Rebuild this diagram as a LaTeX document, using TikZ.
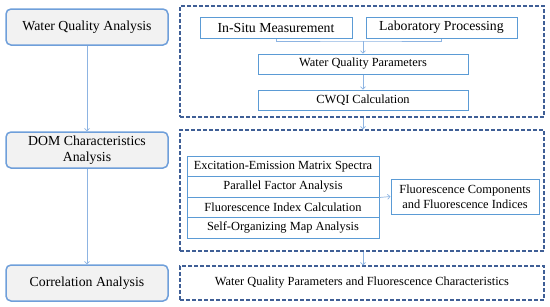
\documentclass[tikz,border=0pt]{standalone}
\usepackage{fontspec}
\setmainfont{Liberation Serif}
\usetikzlibrary{arrows.meta}
\definecolor{leftborder}{HTML}{6F9FDA}
\definecolor{leftfill}{HTML}{F2F2F2}
\definecolor{boxborder}{HTML}{5B9BD5}
\definecolor{dashcol}{HTML}{3F5F96}
\definecolor{arrcol}{HTML}{8DB4E2}
\tikzset{
  leftbox/.style={draw=leftborder, fill=leftfill, line width=1.5pt, rounded corners=5pt,
    minimum width=162pt, minimum height=36pt, inner sep=0pt, align=center,
    font=\fontsize{13.8}{16}\selectfont},
  dashbox/.style={draw=dashcol, line width=1.5pt, dash pattern=on 4pt off 2pt},
  topbox/.style={draw=boxborder, line width=1pt, minimum height=21pt, inner sep=0pt,
    font=\fontsize{13.8}{16}\selectfont},
  inbox/.style={draw=boxborder, line width=1pt, inner sep=0pt, align=center,
    font=\fontsize{12.4}{15}\selectfont},
  conn/.style={draw=arrcol, line width=0.7pt},
  arr/.style={conn, -{Straight Barb[length=2.5pt,width=5pt]}}
}
\begin{document}
\begin{tikzpicture}[x=1pt,y=-1pt]
\useasboundingbox (0,0) rectangle (550,306);
% left column
\node[leftbox] (wqa) at (87,27) {Water Quality Analysis};
\node[leftbox] (dom) at (87,150) {DOM Characteristics\\Analysis};
\node[leftbox] (cor) at (87,283) {Correlation Analysis};
\draw[arr] (wqa.south) -- (dom.north);
\draw[arr] (dom.south) -- (cor.north);
% dashed frames
\node[dashbox, minimum width=364pt, minimum height=111pt, inner sep=0pt] (d1) at (362,61.5) {};
\node[dashbox, minimum width=364pt, minimum height=121pt, inner sep=0pt] (d2) at (362,190.5) {};
\node[dashbox, minimum width=364pt, minimum height=34pt, inner sep=0pt,
  font=\fontsize{12.4}{15}\selectfont] (d3) at (362,283) {Water Quality Parameters and Fluorescence Characteristics};
% frame 1
\node[topbox, minimum width=152pt] (ins) at (276,27.5) {In-Situ Measurement};
\node[topbox, minimum width=151pt] (lab) at (441.5,27.5) {Laboratory Processing};
\node[inbox, minimum width=210pt, minimum height=20pt] (wqp) at (363,64) {Water Quality Parameters};
\node[inbox, minimum width=210pt, minimum height=20pt] (cwq) at (363,100) {CWQI Calculation};
\coordinate (j) at (363,41);
\draw[conn] (ins.south) |- (j) -| (lab.south);
\draw[arr] (j) -- (wqp.north);
\draw[arr] (wqp.south) -- (cwq.north);
\draw[arr] (d1.south -| wqp.south) -- (d2.north -| wqp.south);
% frame 2
\node[inbox, minimum width=192pt, minimum height=20.5pt] (r1) at (283,166.25) {Excitation-Emission Matrix Spectra};
\node[inbox, minimum width=192pt, minimum height=20.5pt] (r2) at (283,186.75) {Parallel Factor Analysis};
\node[inbox, minimum width=192pt, minimum height=20.5pt] (r3) at (283,207.25) {Fluorescence Index Calculation};
\node[inbox, minimum width=192pt, minimum height=20.5pt] (r4) at (283,227.75) {Self-Organizing Map Analysis};
\node[inbox, minimum width=148pt, minimum height=35pt] (fl) at (465,196.5) {Fluorescence Components\\and Fluorescence Indices};
\draw[arr] (r2.south east) -- (fl.west);
\draw[arr] (d2.south -| wqp.south) -- (d3.north -| wqp.south);
\end{tikzpicture}
\end{document}
